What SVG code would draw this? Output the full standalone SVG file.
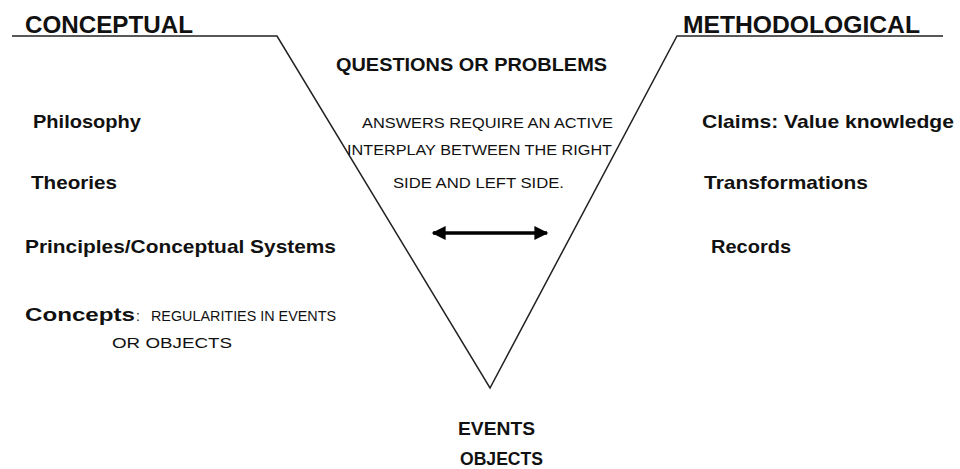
<svg xmlns="http://www.w3.org/2000/svg" width="960" height="469" viewBox="0 0 960 469">
<style>
.t{font-family:"Liberation Sans",Arial,sans-serif;fill:#111}
.h{font-size:23px;font-weight:bold}
.b{font-size:19px;font-weight:bold}
.r{font-size:14px}
.ln{stroke:#222;stroke-width:1.5;fill:none}
</style>
<defs>
<marker id="ah" viewBox="0 0 10 10" refX="9" refY="5" markerWidth="4.5" markerHeight="4" orient="auto-start-reverse" markerUnits="strokeWidth">
<path d="M0,0 L10,5 L0,10 Z" fill="#000"/>
</marker>
</defs>
<rect width="960" height="469" fill="#fff"/>
<g id="connectors">
<polyline class="ln" points="12,36 277,36 490,388 677,36 943,36"/>
<line x1="433" y1="233" x2="547" y2="233" stroke="#000" stroke-width="3.5" marker-start="url(#ah)" marker-end="url(#ah)"/>
</g>
<g id="conceptual"><text class="t h" x="25" y="33" textLength="168" lengthAdjust="spacingAndGlyphs">CONCEPTUAL</text></g>
<g id="methodological"><text class="t h" x="683" y="33" textLength="237" lengthAdjust="spacingAndGlyphs">METHODOLOGICAL</text></g>
<g id="questions"><text class="t b" x="336" y="71" textLength="271" lengthAdjust="spacingAndGlyphs">QUESTIONS OR PROBLEMS</text></g>
<g id="answers">
<text class="t r" x="362" y="128" textLength="251" lengthAdjust="spacingAndGlyphs">ANSWERS REQUIRE AN ACTIVE</text>
<text class="t r" x="347" y="155" textLength="265" lengthAdjust="spacingAndGlyphs">INTERPLAY BETWEEN THE RIGHT</text>
<text class="t r" x="393" y="188" textLength="171" lengthAdjust="spacingAndGlyphs">SIDE AND LEFT SIDE.</text>
</g>
<g id="philosophy"><text class="t b" x="33" y="128" textLength="108" lengthAdjust="spacingAndGlyphs">Philosophy</text></g>
<g id="theories"><text class="t b" x="31" y="189" textLength="86" lengthAdjust="spacingAndGlyphs">Theories</text></g>
<g id="principles"><text class="t b" x="25" y="253" textLength="311" lengthAdjust="spacingAndGlyphs">Principles/Conceptual Systems</text></g>
<g id="concepts">
<text class="t b" x="25" y="321" textLength="110" lengthAdjust="spacingAndGlyphs">Concepts</text>
<text class="t r" x="136" y="321">:</text>
<text class="t r" x="151" y="321" textLength="185" lengthAdjust="spacingAndGlyphs">REGULARITIES IN EVENTS</text>
<text class="t r" x="112" y="348" textLength="120" lengthAdjust="spacingAndGlyphs">OR OBJECTS</text>
</g>
<g id="claims"><text class="t b" x="702" y="128" textLength="252" lengthAdjust="spacingAndGlyphs">Claims: Value knowledge</text></g>
<g id="transformations"><text class="t b" x="704" y="189" textLength="164" lengthAdjust="spacingAndGlyphs">Transformations</text></g>
<g id="records"><text class="t b" x="711" y="253" textLength="80" lengthAdjust="spacingAndGlyphs">Records</text></g>
<g id="events">
<text class="t b" x="458" y="435" textLength="77" lengthAdjust="spacingAndGlyphs">EVENTS</text>
<text class="t b" x="460" y="465" textLength="83" lengthAdjust="spacingAndGlyphs">OBJECTS</text>
</g>
</svg>
